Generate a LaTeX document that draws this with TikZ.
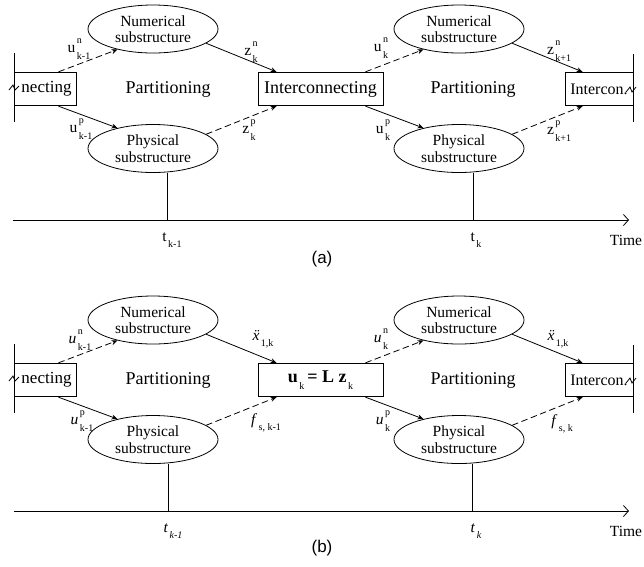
\documentclass[tikz,border=0pt]{standalone}
\usepackage{fontspec}
\setmainfont{Liberation Serif}
\newfontfamily\capfont{Liberation Sans}
\usetikzlibrary{shapes.geometric,arrows.meta}
\newcommand\lbl[3]{#1\kern1.5pt\rlap{\raisebox{0.6em}{\fontsize{10}{10}\selectfont #2}}\raisebox{-0.4em}{\fontsize{10}{10}\selectfont #3}}
\tikzset{
  sub/.style={draw, ellipse, minimum width=130pt, minimum height=48pt, inner sep=0pt, align=center, font=\fontsize{15.5}{16.5}\selectfont},
  blk/.style={draw, rectangle, minimum height=33.5pt, inner sep=1pt, font=\fontsize{18}{20}\selectfont},
  lab/.style={inner sep=0pt, font=\fontsize{15.5}{16}\selectfont},
  big/.style={inner sep=0pt, font=\fontsize{18}{20}\selectfont},
  capt/.style={inner sep=0pt, font=\capfont\fontsize{17}{18}\selectfont},
  dsh/.style={dash pattern=on 6.5pt off 3.5pt},
  con/.style={-{Stealth[length=6pt,width=5pt]}},
  axis/.style={-{Straight Barb[length=5pt,width=11pt]}}
}
\begin{document}
\begin{tikzpicture}[x=1pt, y=-1pt, line width=0.8pt]
  \useasboundingbox (0,0) rectangle (644,566);
  % (a)
  \node[blk, minimum width=62pt] (prvA) at (45,89) {\fontsize{17}{18}\selectfont\hspace{3pt}necting};
  \node[blk, minimum width=125pt] (midA) at (320.5,89) {Interconnecting};
  \node[blk, minimum width=68pt] (nxtA) at (599,89) {\fontsize{16}{18}\selectfont Intercon.\hspace{7pt}};
  \node[sub] (numLA) at (153,29) {Numerical\\substructure};
  \node[sub] (phyLA) at (153,148.5) {Physical\\substructure};
  \node[sub] (numRA) at (459,29) {Numerical\\substructure};
  \node[sub] (phyRA) at (459,148.5) {Physical\\substructure};
  \node[big] (prtLA) at (168,89) {Partitioning};
  \node[big] (prtRA) at (473,89) {Partitioning};
  \draw (14,53) -- (14,122);
  \draw (633,54) -- (633,122);
  \draw (9,90) -- (13,85) -- (15,90) -- (19,86);
  \draw (626,92) -- (630,87) -- (632,92) -- (636,87);
  \draw[con, dsh] ([xshift=-18pt]prvA.north east) -- (numLA.210);
  \draw[con] ([xshift=-18pt]prvA.south east) -- (phyLA.150);
  \draw[con] (numLA.345) -- ([xshift=19pt]midA.north west);
  \draw[con, dsh] (phyLA.15) -- ([xshift=19pt]midA.south west);
  \draw[con, dsh] ([xshift=-18pt]midA.north east) -- (numRA.210);
  \draw[con] ([xshift=-18pt]midA.south east) -- (phyRA.150);
  \draw[con] (numRA.345) -- ([xshift=18pt]nxtA.north west);
  \draw[con, dsh] (phyRA.15) -- ([xshift=18pt]nxtA.south west);
  \node[lab] (unLA) at (79,49) {\lbl{u}{n}{k-1}};
  \node[lab] (upLA) at (81,129) {\lbl{u}{p}{k-1}};
  \node[lab] (znLA) at (251,52) {\lbl{z}{n}{k}};
  \node[lab] (zpLA) at (249,130) {\lbl{z}{p}{k}};
  \node[lab] (unRA) at (381,48) {\lbl{u}{n}{k}};
  \node[lab] (upRA) at (383,130) {\lbl{u}{p}{k}};
  \node[lab] (znRA) at (559,51) {\lbl{z}{n}{k+1}};
  \node[lab] (zpRA) at (559,131) {\lbl{z}{p}{k+1}};
  \coordinate (t0A) at (13,220);
  \coordinate (t1A) at (629,220);
  \coordinate (tkLA) at (167,220);
  \coordinate (tkRA) at (473,220);
  \draw[axis] (t0A) -- (t1A);
  \draw (tkLA |- phyLA.south) -- (tkLA);
  \draw (tkRA |- phyRA.south) -- (tkRA);
  \node[lab] (tlLA) at (172,240) {\lbl{t}{}{k-1}};
  \node[lab] (tlRA) at (476,240) {\lbl{t}{}{k}};
  \node[lab] (timeA) at (626,240) {Time};
  \node[capt] (capA) at (322,259) {(a)};
  % (b)
  \begin{scope}[shift={(0,291)}]
  \node[blk, minimum width=62pt] (prvB) at (45,89) {\fontsize{17}{18}\selectfont\hspace{3pt}necting};
  \node[blk, minimum width=125pt] (midB) at (320.5,89) {\lbl{\textbf{u}}{}{k}\,\textbf{= L z}\lbl{}{}{k}};
  \node[blk, minimum width=68pt] (nxtB) at (599,89) {\fontsize{16}{18}\selectfont Intercon.\hspace{7pt}};
  \node[sub] (numLB) at (153,29) {Numerical\\substructure};
  \node[sub] (phyLB) at (153,148.5) {Physical\\substructure};
  \node[sub] (numRB) at (459,29) {Numerical\\substructure};
  \node[sub] (phyRB) at (459,148.5) {Physical\\substructure};
  \node[big] (prtLB) at (168,89) {Partitioning};
  \node[big] (prtRB) at (473,89) {Partitioning};
  \draw (14,53) -- (14,122);
  \draw (633,54) -- (633,122);
  \draw (9,90) -- (13,85) -- (15,90) -- (19,86);
  \draw (626,92) -- (630,87) -- (632,92) -- (636,87);
  \draw[con, dsh] ([xshift=-18pt]prvB.north east) -- (numLB.210);
  \draw[con] ([xshift=-18pt]prvB.south east) -- (phyLB.150);
  \draw[con] (numLB.345) -- ([xshift=19pt]midB.north west);
  \draw[con, dsh] (phyLB.15) -- ([xshift=19pt]midB.south west);
  \draw[con, dsh] ([xshift=-18pt]midB.north east) -- (numRB.210);
  \draw[con] ([xshift=-18pt]midB.south east) -- (phyRB.150);
  \draw[con] (numRB.345) -- ([xshift=18pt]nxtB.north west);
  \draw[con, dsh] (phyRB.15) -- ([xshift=18pt]nxtB.south west);
  \node[lab] (unLB) at (80,49) {\lbl{\textit{u}}{n}{k-1}};
  \node[lab] (upLB) at (82,130) {\lbl{\textit{u}}{p}{k-1}};
  \node[lab] (xLB) at (263,48) {\lbl{\textit{\"x}}{}{1,k}};
  \node[lab] (fLB) at (266,132) {\lbl{\textit{f}}{}{s, k-1}};
  \node[lab] (unRB) at (381,48) {\lbl{\textit{u}}{n}{k}};
  \node[lab] (upRB) at (383,130) {\lbl{\textit{u}}{p}{k}};
  \node[lab] (xRB) at (558,48) {\lbl{\textit{\"x}}{}{1,k}};
  \node[lab] (fRB) at (562,133) {\lbl{\textit{f}}{}{s, k}};
  \coordinate (t0B) at (14,220);
  \coordinate (t1B) at (629,220);
  \coordinate (tkLB) at (168,220);
  \coordinate (tkRB) at (472,220);
  \draw[axis] (t0B) -- (t1B);
  \draw (tkLB |- phyLB.south) -- (tkLB);
  \draw (tkRB |- phyRB.south) -- (tkRB);
  \node[lab] (tlLB) at (173,240) {\lbl{\textit{t}}{}{\textit{k-1}}};
  \node[lab] (tlRB) at (476,240) {\lbl{\textit{t}}{}{\textit{k}}};
  \node[lab] (timeB) at (626,240) {Time};
  \node[capt] (capB) at (322,257) {(b)};
  \end{scope}
\end{tikzpicture}
\end{document}
